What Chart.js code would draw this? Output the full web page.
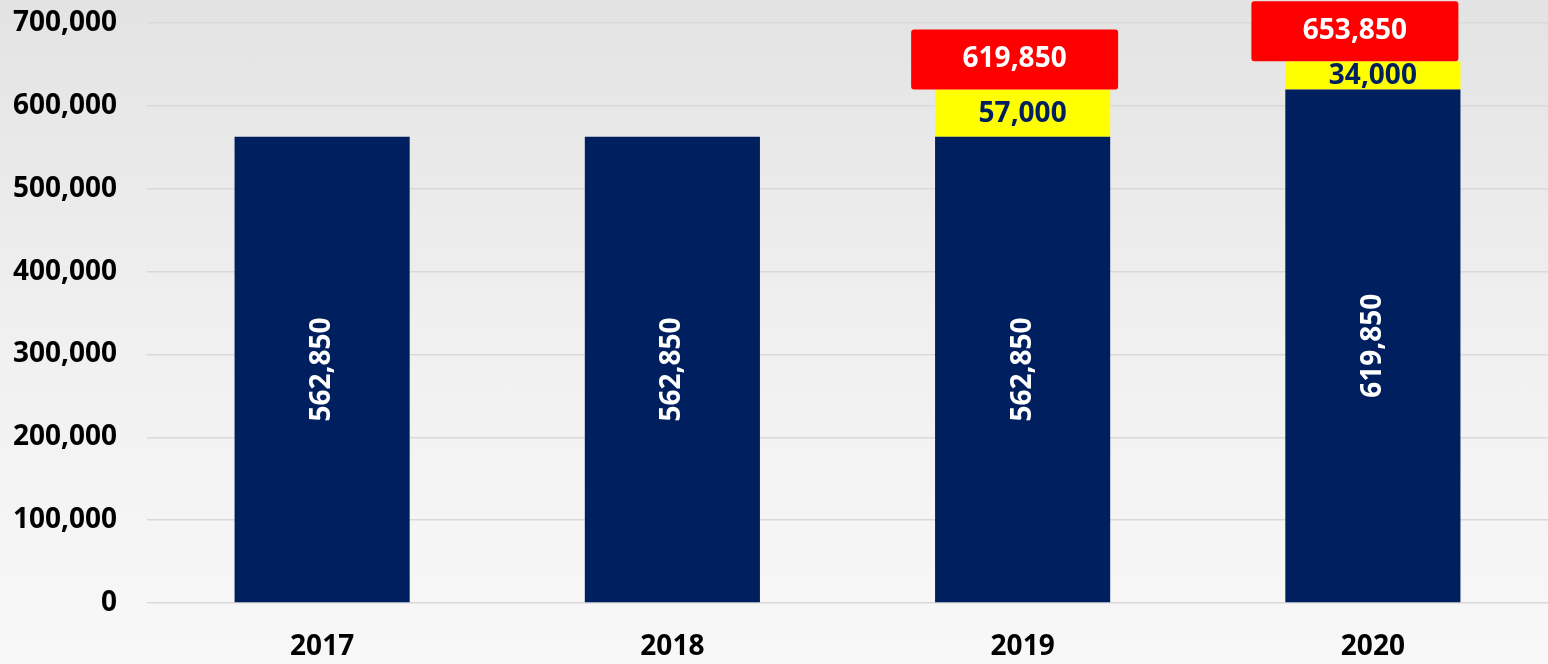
<!DOCTYPE html>
<html>
<head>
<meta charset="utf-8">
<script src="https://cdn.jsdelivr.net/npm/chart.js@4.4.1/dist/chart.umd.min.js"></script>
<style>
  html, body { margin: 0; padding: 0; }
  body { width: 1548px; height: 664px; background: linear-gradient(to bottom, #e3e3e3 0%, #f0f0f0 50%, #f8f8f8 100%); }
  #chart { display: block; }
</style>
</head>
<body>
<canvas id="chart" width="1548" height="664"></canvas>
<script>
const years = ['2017', '2018', '2019', '2020']
const baseValues = [562850, 562850, 562850, 619850]
const increaseValues = [null, null, 57000, 34000]
const totalValues = [null, null, 619850, 653850]
const yTicks = [0, 100000, 200000, 300000, 400000, 500000, 600000, 700000]

const NAVY = '#001f5f'
const FONT = '"Open Sans", "DejaVu Sans", sans-serif'
// the red callouts were nudged left by hand in the original
const calloutShift = [0, 0, -8, -18]
const fmt = v => v.toLocaleString('en-US')

const labelPlugin = {
  id: 'barLabels',
  afterDatasetsDraw(chart) {
    const ctx = chart.ctx
    const y = chart.scales.y
    ctx.save()
    ctx.font = 'bold 28px ' + FONT
    ctx.textAlign = 'center'
    ctx.textBaseline = 'middle'

    // rotated labels inside the navy bars
    chart.getDatasetMeta(0).data.forEach((bar, i) => {
      ctx.save()
      ctx.translate(bar.x, (bar.y + bar.base) / 2)
      ctx.rotate(-Math.PI / 2)
      ctx.fillStyle = '#ffffff'
      ctx.fillText(fmt(baseValues[i]), 0, 0)
      ctx.restore()
    })

    // increase labels in the yellow part
    chart.getDatasetMeta(1).data.forEach((bar, i) => {
      if (increaseValues[i] == null) return
      ctx.fillStyle = NAVY
      ctx.fillText(fmt(increaseValues[i]), bar.x, (bar.y + bar.base) / 2 + 1)
    })

    // red total boxes sitting on top of the stack
    chart.getDatasetMeta(0).data.forEach((bar, i) => {
      if (totalValues[i] == null) return
      const bottom = y.getPixelForValue(totalValues[i])
      const cx = bar.x + calloutShift[i]
      const w = 207, h = 60
      ctx.fillStyle = '#ff0000'
      ctx.beginPath()
      ctx.roundRect(cx - w / 2, bottom - h, w, h, 3)
      ctx.fill()
      ctx.fillStyle = '#ffffff'
      ctx.fillText(fmt(totalValues[i]), cx, bottom - h / 2)
    })
    ctx.restore()
  }
}

new Chart(document.getElementById('chart'), {
  type: 'bar',
  data: {
    labels: years,
    datasets: [
      { label: 'Base', data: baseValues, backgroundColor: NAVY, barPercentage: 0.5, categoryPercentage: 1 },
      { label: 'Increase', data: increaseValues, backgroundColor: '#ffff00', barPercentage: 0.5, categoryPercentage: 1 }
    ]
  },
  options: {
    responsive: false,
    animation: false,
    layout: { padding: { top: 23, right: 0, bottom: 0, left: 0 } },
    plugins: { legend: { display: false }, tooltip: { enabled: false } },
    scales: {
      x: {
        stacked: true,
        grid: { display: false },
        border: { display: false },
        ticks: { color: '#000', font: { family: FONT, size: 28, weight: 'bold' }, padding: 19 },
        afterFit: s => { s.height = 61; s.paddingLeft = 0; s.paddingRight = 0 }
      },
      y: {
        stacked: true,
        min: 0,
        max: 700000,
        afterBuildTicks: s => { s.ticks = yTicks.map(v => ({ value: v })) },
        grid: { color: '#d9d9d9', lineWidth: 1.5, drawTicks: false },
        border: { display: false },
        ticks: { color: '#000', font: { family: FONT, size: 28, weight: 'bold' }, padding: 30, callback: v => fmt(v) },
        afterFit: s => { s.width = 147; s.paddingTop = 0; s.paddingBottom = 0 }
      }
    }
  },
  plugins: [labelPlugin]
})
</script>
</body>
</html>
